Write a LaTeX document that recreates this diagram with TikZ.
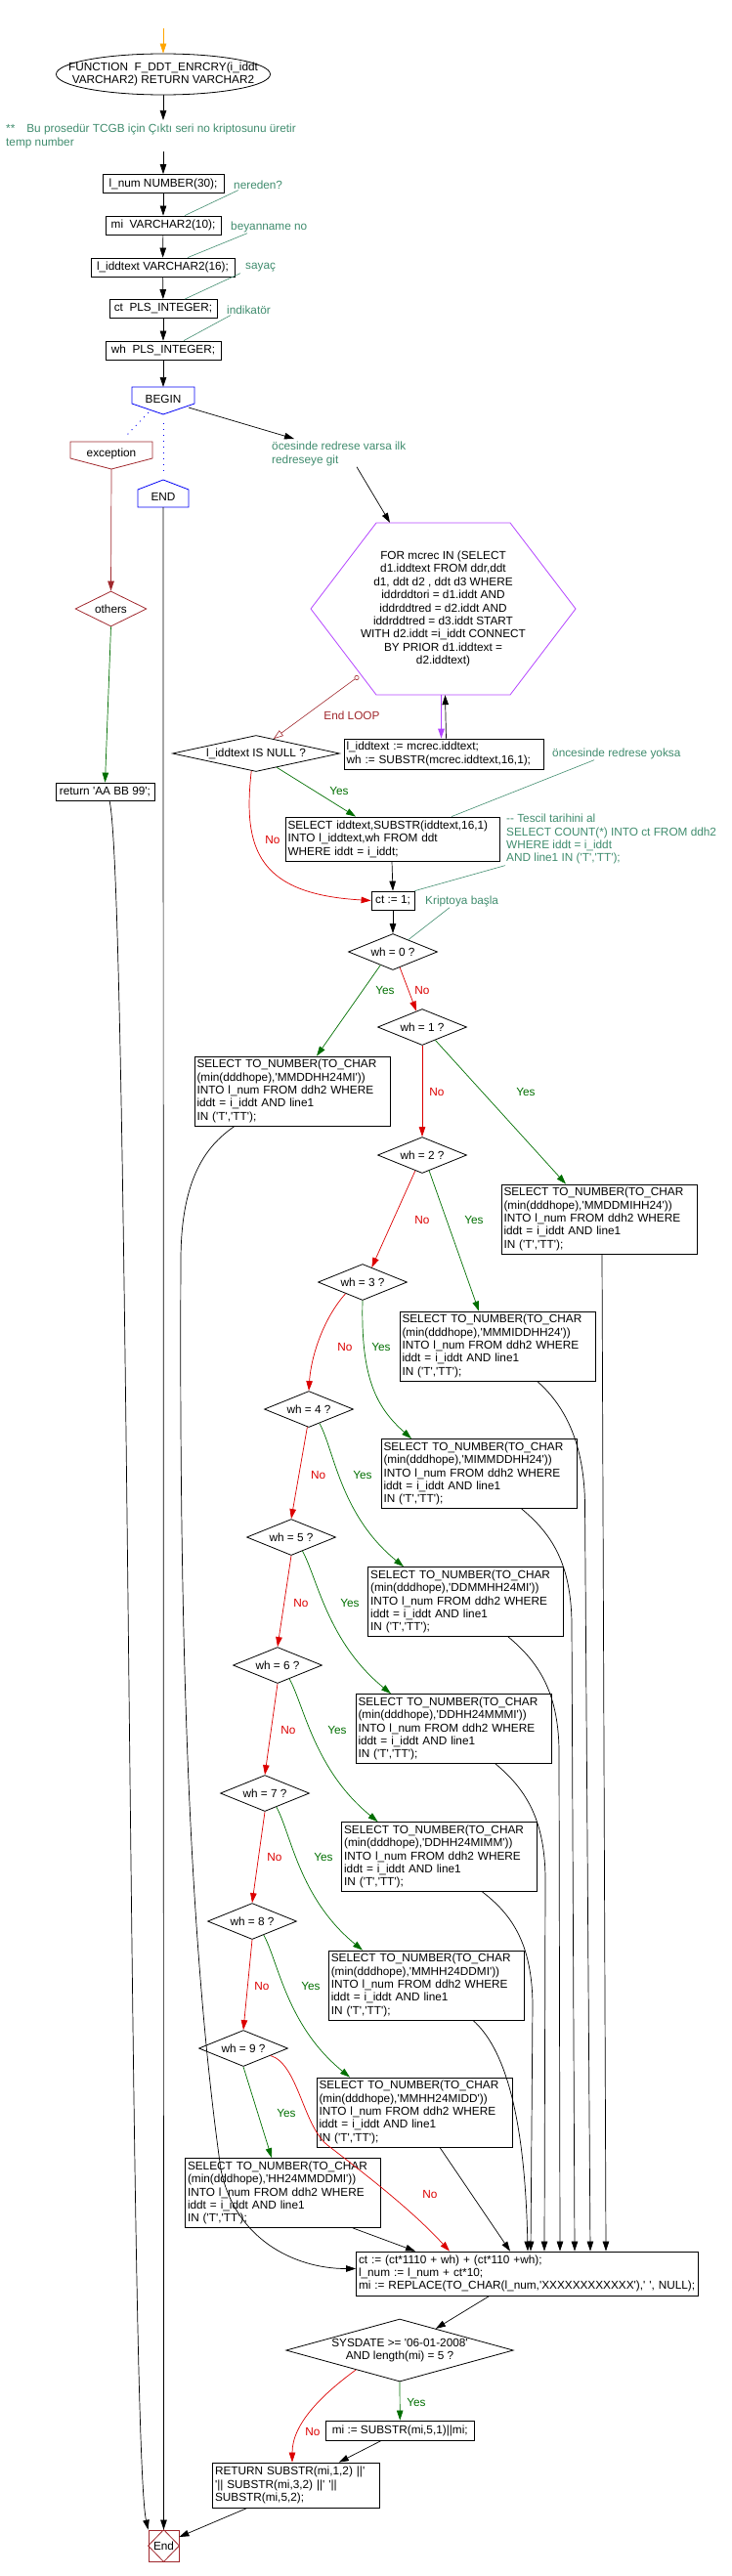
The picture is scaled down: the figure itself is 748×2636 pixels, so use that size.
\documentclass[tikz,border=0pt]{standalone}
\usepackage{fontspec}
\setmainfont{Liberation Sans}[Ligatures=TeXOff]
\usepackage{xcolor}
\usepackage{tikz}
\usetikzlibrary{shapes.geometric, arrows.meta}
\definecolor{notecolor}{RGB}{64,140,110}
\definecolor{yescolor}{RGB}{0,110,0}
\definecolor{nocolor}{RGB}{220,0,0}
\definecolor{exccolor}{RGB}{160,40,45}
\definecolor{blockcolor}{RGB}{0,0,245}
\definecolor{loopcolor}{RGB}{180,70,255}
\definecolor{startcolor}{RGB}{255,165,0}
\newcommand{\selnum}[1]{SELECT TO\_NUMBER(TO\_CHAR\\(min(dddhope),'#1'))\\INTO l\_num FROM ddh2 WHERE\\iddt = i\_iddt AND line1\\IN ('T','TT');}

\begin{document}
\begin{tikzpicture}[x=1pt, y=-1pt, font=\fontsize{11.8}{13.4}\selectfont,
    arr/.style={-{Triangle[length=10pt,width=6.5pt]}, line width=0.7pt},
    yesline/.style={arr, yescolor},
    noline/.style={arr, nocolor},
    decl/.style={draw, line width=0.8pt, inner sep=2pt, minimum height=19pt},
    codebox/.style={draw, line width=0.8pt, inner sep=2.5pt, text width=195pt, minimum height=71pt, align=left},
    whcond/.style={draw, diamond, aspect=2.46, inner sep=0pt, minimum width=91pt, minimum height=37pt, line width=0.8pt},
    note/.style={notecolor, inner sep=1pt, align=left},
    noteline/.style={notecolor, line width=0.6pt},
    yeslbl/.style={yescolor, inner sep=0pt},
    nolbl/.style={nocolor, inner sep=0pt}]
        \useasboundingbox (0,0) rectangle (748,2636);

        % function head and declarations
        \coordinate (start) at (167,29);
        \node[ellipse, draw, line width=0.8pt, minimum width=219pt, minimum height=42pt, inner sep=0pt] (func) at (167,76) {};
        \node[align=center, inner sep=0pt] (functext) at (func) {FUNCTION~~F\_DDT\_ENRCRY(i\_iddt\\VARCHAR2) RETURN VARCHAR2};
        \node[note, anchor=north west] (intro) at (5,126) {**\hspace{12pt}Bu prosedür TCGB için Çıktı seri no kriptosunu üretir\\temp number};
        \coordinate (introin) at (167,123);
        \coordinate (introout) at (167,155);
        \node[decl, minimum width=124pt] (numbox) at (167,188) {l\_num NUMBER(30);};
        \node[decl, minimum width=118pt] (mibox) at (167,230.5) {mi~~VARCHAR2(10);};
        \node[decl, minimum width=147pt] (iddtbox) at (166.5,273.5) {l\_iddtext VARCHAR2(16);};
        \node[decl, minimum width=110pt] (ctbox) at (167,316) {ct~~PLS\_INTEGER;};
        \node[decl, minimum width=118pt] (whbox) at (167,358.5) {wh~~PLS\_INTEGER;};
        \node[note, anchor=west] (c1) at (238,189) {nereden?};
        \node[note, anchor=west] (c2) at (235,232) {beyanname no};
        \node[note, anchor=west] (c3) at (250,274) {sayaç};
        \node[note, anchor=west] (c4) at (231,317) {indikatör};

        \draw[arr, startcolor] (start) -- (func.north);
        \draw[arr] (func.south) -- (introin);
        \draw[arr] (introout) -- (numbox.north);
        \draw[arr] (numbox) -- (mibox);
        \draw[arr] (mibox) -- (iddtbox);
        \draw[arr] (iddtbox) -- (ctbox);
        \draw[arr] (ctbox) -- (whbox);
        \draw[noteline] ([xshift=6pt]c1.south west) -- ([xshift=22pt]mibox.north);
        \draw[noteline] ([xshift=18pt]c2.south west) -- ([xshift=25.5pt]iddtbox.north);
        \draw[noteline] ([xshift=-4pt]c3.south west) -- ([xshift=22pt]ctbox.north);
        \draw[noteline] ([xshift=5pt]c4.south west) -- ([xshift=21pt]whbox.north);

        % BEGIN, exception, END
        \node (begin) at (167,408) {BEGIN};
        \draw[blockcolor, line width=0.8pt] (135,396) -- (199,396) -- (199,413) -- (167,424) -- (135,413) -- cycle;
        \node (exc) at (114,464) {exception};
        \draw[exccolor, line width=0.8pt] (72,452) -- (156,452) -- (156,469) -- (114,480) -- (72,469) -- cycle;
        \node (endblk) at (167,508) {END};
        \draw[blockcolor, line width=0.8pt] (167,491) -- (193,501) -- (193,519) -- (141,519) -- (141,501) -- cycle;
        \coordinate (begintop) at (167,396);
        \coordinate (beginright) at (193,417);
        \coordinate (beginleft) at (152,422);
        \coordinate (beginbot) at (167,433);
        \coordinate (excdot) at (130,445);
        \coordinate (enddot) at (167,483);
        \coordinate (excbot) at (114,480);
        \coordinate (endbot) at (167,519);
        \node[draw, diamond, aspect=2, exccolor, text=black, line width=0.8pt, inner sep=0pt, minimum width=73pt, minimum height=36pt] (others) at (113.5,623) {others};
        \node[decl, minimum width=101pt, minimum height=18pt] (retexc) at (107.5,810) {return 'AA BB 99';};

        \draw[arr] (whbox.south) -- (begintop);
        \draw[blockcolor, line width=0.8pt, dash pattern=on 1pt off 5pt] (beginleft) -- (excdot);
        \draw[blockcolor, line width=0.8pt, dash pattern=on 1pt off 5pt] (beginbot) -- (enddot);
        \draw[arr, exccolor] (excbot) -- (others.north);
        \draw[arr, yescolor] (others.south) -- (retexc.north);

        % cursor loop
        \node[note, anchor=north west] (c5) at (277,451) {öcesinde redrese varsa ilk\\redreseye git};
        \node[align=center, minimum width=271pt, minimum height=176pt, inner sep=0pt] (loop) at (453.5,623) {FOR mcrec IN (SELECT\\d1.iddtext FROM ddr,ddt\\d1, ddt d2 , ddt d3 WHERE\\iddrddtori = d1.iddt AND\\iddrddtred = d2.iddt AND\\iddrddtred = d3.iddt START\\WITH d2.iddt =i\_iddt CONNECT\\BY PRIOR d1.iddtext =\\d2.iddtext)};
        \draw[loopcolor, line width=0.8pt] (385,535) -- (522,535) -- (589,623) -- (522,711) -- (385,711) -- (318,623) -- cycle;
        \coordinate (loopexit) at (367,692);
        \node[draw, line width=0.8pt, inner sep=2.5pt, text width=199pt, minimum height=31pt, align=left] (loopbox) at (454,771.5) {l\_iddtext := mcrec.iddtext;\\wh := SUBSTR(mcrec.iddtext,16,1);};
        \node[draw, diamond, aspect=4.6, inner sep=0pt, line width=0.8pt, minimum width=171pt, minimum height=37pt] (isnull) at (262,771) {l\_iddtext IS NULL ?};
        \node[exccolor, inner sep=0pt] (endloop) at (360,732) {End LOOP};

        \draw[arr] (beginright) -- ([xshift=24pt,yshift=2pt]c5.north west);
        \draw[arr] ([xshift=88pt]c5.south west) -- ([xshift=-54.5pt]loop.north);
        \draw[arr, loopcolor, line width=1.2pt] ([xshift=-2pt]loop.south) -- ([xshift=-2.5pt]loopbox.north);
        \draw[arr] ([xshift=2.5pt]loopbox.north) -- ([xshift=2pt]loop.south);
        \draw[exccolor, line width=0.6pt, {Circle[open,length=5pt,width=5pt]}-{Triangle[open,length=10pt,width=7pt]}] (loopexit) -- (isnull.40);

        % select when not found
        \node[draw, line width=0.8pt, inner sep=2.5pt, text width=214.5pt, minimum height=45pt, align=left] (selbox) at (401.75,858.5) {SELECT iddtext,SUBSTR(iddtext,16,1)\\INTO l\_iddtext,wh FROM ddt\\WHERE iddt = i\_iddt;};
        \node[decl, minimum width=44pt] (ct1box) at (402,921.5) {ct := 1;};
        \node[note, anchor=west] (c6) at (564,771) {öncesinde redrese yoksa};
        \node[note, anchor=north west] (c7) at (517,832) {-- Tescil tarihini al\\SELECT COUNT(*) INTO ct FROM ddh2\\WHERE iddt = i\_iddt\\AND line1 IN ('T','TT');};
        \node[note, anchor=west] (c8) at (434,922) {Kriptoya başla};
        \node[yeslbl] (lyes) at (347,809) {Yes};
        \node[nolbl] (lno) at (279,859) {No};

        \draw[yesline] (isnull.326) -- ([xshift=-37.75pt]selbox.north);
        \draw[noline] (isnull.255) .. controls (248,870) and (265,915) .. (ct1box.west);
        \draw[arr] ([xshift=-0.75pt]selbox.south) -- (ct1box.north);
        \draw[noteline] ([xshift=44pt]c6.south west) -- ([xshift=60.25pt]selbox.north);
        \draw[noteline] (c7.south west) -- (ct1box.north east);

        % wh cases
        \node[whcond] (wh0) at (402,974) {wh = 0 ?};
        \node[whcond] (wh1) at (432,1051) {wh = 1 ?};
        \node[whcond] (wh2) at (432,1182) {wh = 2 ?};
        \node[whcond] (wh3) at (371,1312) {wh = 3 ?};
        \node[whcond] (wh4) at (316,1442) {wh = 4 ?};
        \node[whcond] (wh5) at (298,1573) {wh = 5 ?};
        \node[whcond] (wh6) at (284,1704) {wh = 6 ?};
        \node[whcond] (wh7) at (271,1835) {wh = 7 ?};
        \node[whcond] (wh8) at (258,1966) {wh = 8 ?};
        \node[whcond] (wh9) at (249,2096) {wh = 9 ?};
        \node[codebox] (box1) at (299,1116.5) {\selnum{MMDDHH24MI}};
        \node[codebox] (box2) at (613,1247.5) {\selnum{MMDDMIHH24}};
        \node[codebox] (box3) at (509,1377.5) {\selnum{MMMIDDHH24}};
        \node[codebox] (box4) at (490,1508) {\selnum{MIMMDDHH24}};
        \node[codebox] (box5) at (476.7,1639) {\selnum{DDMMHH24MI}};
        \node[codebox] (box6) at (464,1769) {\selnum{DDHH24MMMI}};
        \node[codebox] (box7) at (449.6,1900) {\selnum{DDHH24MIMM}};
        \node[codebox] (box8) at (436.3,2031.5) {\selnum{MMHH24DDMI}};
        \node[codebox] (box9) at (424,2161.5) {\selnum{MMHH24MIDD}};
        \node[codebox] (box10) at (289.5,2244) {\selnum{HH24MMDDMI}};
        % yes / no labels
        \node[yeslbl] (y0) at (394,1013) {Yes};
        \node[nolbl] (n0) at (432,1013) {No};
        \node[nolbl] (n1) at (447,1117) {No};
        \node[yeslbl] (y1) at (538,1117) {Yes};
        \node[nolbl] (n2) at (432,1248) {No};
        \node[yeslbl] (y2) at (485,1248) {Yes};
        \node[nolbl] (n3) at (353,1378) {No};
        \node[yeslbl] (y3) at (390,1378) {Yes};
        \node[nolbl] (n4) at (325.6,1509) {No};
        \node[yeslbl] (y4) at (371,1509) {Yes};
        \node[nolbl] (n5) at (308,1640) {No};
        \node[yeslbl] (y5) at (358,1640) {Yes};
        \node[nolbl] (n6) at (295,1770) {No};
        \node[yeslbl] (y6) at (345,1770) {Yes};
        \node[nolbl] (n7) at (281,1900) {No};
        \node[yeslbl] (y7) at (331,1900) {Yes};
        \node[nolbl] (n8) at (268,2032) {No};
        \node[yeslbl] (y8) at (318,2032) {Yes};
        \node[yeslbl] (y9) at (293,2162) {Yes};
        \node[nolbl] (n9) at (440,2245) {No};

        \draw[arr] (ct1box.south) -- (wh0.north);
        \draw[noteline] ([xshift=26pt]c8.south west) -- (wh0.38);
        \draw[yesline] (wh0.227) -- ([xshift=25pt]box1.north);
        \draw[noline] (wh0.294) -- (wh1.110);
        \draw[noline] (wh1.south) -- (wh2.north);
        \draw[yesline] (wh1.315) -- ([xshift=-34pt]box2.north);
        \draw[noline] (wh2.246) -- (wh3.58);
        \draw[yesline] (wh2.294) -- ([xshift=-19pt]box3.north);
        \draw[noline] (wh3.214) .. controls (330,1350) and (318,1390) .. (wh4.north);
        \draw[yesline] (wh3.south) .. controls (369,1410) and (385,1440) .. ([xshift=-69pt]box4.north);
        \draw[noline] (wh4.265) -- (wh5.north);
        \draw[yesline] (wh4.307) .. controls +(15,27) and +(-65,-53) .. ([xshift=-63.7pt]box5.north);
        \draw[noline] (wh5.south) -- (wh6.north);
        \draw[yesline] (wh5.309) .. controls +(15,27) and +(-65,-53) .. ([xshift=-64pt]box6.north);
        \draw[noline] (wh6.south) -- (wh7.north);
        \draw[yesline] (wh6.311) .. controls +(15,27) and +(-65,-53) .. ([xshift=-63pt]box7.north);
        \draw[noline] (wh7.south) -- (wh8.north);
        \draw[yesline] (wh7.310) .. controls +(15,27) and +(-65,-53) .. ([xshift=-65.3pt]box8.north);
        \draw[noline] (wh8.south) -- (wh9.north);
        \draw[yesline] (wh8.310) .. controls +(15,27) and +(-65,-53) .. ([xshift=-66pt]box9.north);
        \draw[yesline] (wh9.south) -- ([xshift=-11.5pt]box10.north);

        % collect into the calculation
        \node[draw, line width=0.8pt, inner sep=2.5pt, text width=344.5pt, minimum height=45pt, align=left] (calcbox) at (539.25,2326.5) {ct := (ct*1110 + wh) + (ct*110 +wh);\\l\_num := l\_num + ct*10;\\mi := REPLACE(TO\_CHAR(l\_num,'XXXXXXXXXXXX'),' ', NULL);};
        \draw[noline] (wh9.345) .. controls (305,2112) and (310,2175) .. (335,2195) .. controls (370,2222) and (420,2260) .. ([xshift=-79.25pt]calcbox.north);
        \draw[arr] ([xshift=-59pt]box1.south) .. controls (215,1170) and (185,1200) .. (185,1290) .. controls (183,1700) and (195,2000) .. (226,2220) .. controls (240,2290) and (300,2321.5) .. ([yshift=5pt]calcbox.west);
        \draw[arr] ([xshift=3pt]box2.south) -- ([xshift=80.75pt]calcbox.north);
        \draw[arr] ([xshift=40.6pt]box3.south) .. controls (580,1440) and (598,1480) .. (598.5,1540) -- ([xshift=64.75pt]calcbox.north);
        \draw[arr] ([xshift=43.6pt]box4.south) .. controls (565,1570) and (584,1600) .. (585,1660) -- ([xshift=48.75pt]calcbox.north);
        \draw[arr] ([xshift=43.3pt]box5.south) .. controls (550,1700) and (571,1730) .. (572,1790) -- ([xshift=33.75pt]calcbox.north);
        \draw[arr] ([xshift=43pt]box6.south) .. controls (537,1830) and (557,1860) .. (558,1920) -- ([xshift=17.75pt]calcbox.north);
        \draw[arr] ([xshift=43.9pt]box7.south) .. controls (525,1960) and (544,1990) .. (545,2050) -- ([xshift=3.75pt]calcbox.north);
        \draw[arr] ([xshift=47.7pt]box8.south) .. controls (515,2095) and (537,2160) .. ([xshift=0.75pt]calcbox.north);
        \draw[arr] ([xshift=26pt]box9.south) -- ([xshift=-17.25pt]calcbox.north);
        \draw[arr] ([xshift=71.5pt]box10.south) -- ([xshift=-114.25pt]calcbox.north);

        % date check and return
        \node[draw, diamond, aspect=3.63, inner sep=0pt, line width=0.8pt, minimum width=232.6pt, minimum height=64pt, align=center] (sysdate) at (409,2405) {SYSDATE >= '06-01-2008'\\AND length(mi) = 5 ?};
        \node[decl, minimum width=151.5pt, minimum height=20pt] (mi5box) at (409.25,2487) {mi := SUBSTR(mi,5,1)||mi;};
        \node[draw, line width=0.8pt, inner sep=2.5pt, text width=165.5pt, minimum height=46pt, align=left] (retbox) at (302.75,2543) {RETURN SUBSTR(mi,1,2) ||'\\'|| SUBSTR(mi,3,2) ||' '||\\SUBSTR(mi,5,2);};
        \node[draw=exccolor, line width=0.8pt, minimum width=31pt, minimum height=32pt, inner sep=0pt] (endn) at (167.5,2605) {End};
        \draw[exccolor, line width=0.8pt] (endn.north) -- (endn.east) -- (endn.south) -- (endn.west) -- cycle;
        \node[yeslbl] (ys) at (426,2458) {Yes};
        \node[nolbl] (ns) at (320,2488) {No};

        \draw[arr] ([xshift=-38.5pt]calcbox.south) -- (sysdate.31);
        \draw[yesline] (sysdate.south) -- (mi5box.north);
        \draw[noline] (sysdate.204) .. controls (330,2450) and (299,2480) .. ([xshift=-3.75pt]retbox.north);
        \draw[arr] ([xshift=-19pt]mi5box.south) -- ([xshift=44pt]retbox.north);
        \draw[arr] ([xshift=-49.75pt]retbox.south) -- ([yshift=9pt]endn.east);
        \draw[arr] ([xshift=4.5pt]retexc.south) .. controls (132,900) and (132,2500) .. (endn.north west);
        \draw[arr] (endbot) -- (endn.north);
    \end{tikzpicture}
\end{document}
